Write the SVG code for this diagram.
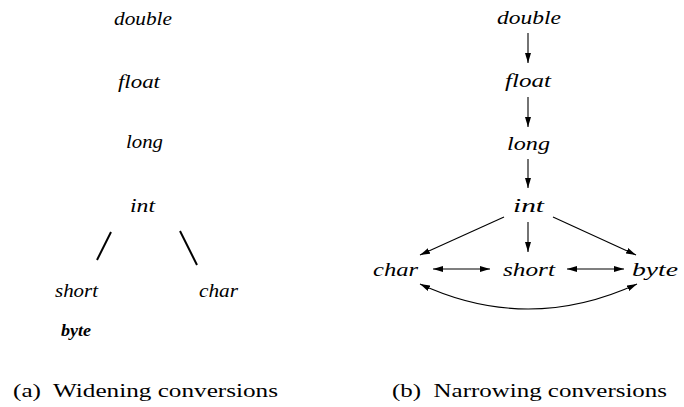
<svg xmlns="http://www.w3.org/2000/svg" width="684" height="407" viewBox="0 0 684 407">
<defs>
<style>
.tree{stroke:#000;stroke-width:2;fill:none}
.arr{stroke:#000;stroke-width:1.1;fill:none;marker-end:url(#ah)}
.darr{stroke:#000;stroke-width:1.1;fill:none;marker-end:url(#ah);marker-start:url(#ah)}
</style>
<marker id="ah" viewBox="0 0 10 6" refX="10" refY="3" markerWidth="10" markerHeight="6" markerUnits="userSpaceOnUse" orient="auto-start-reverse">
<path d="M0,0 L10,3 L0,6 z" fill="#000"/>
</marker>
</defs>
<rect width="684" height="407" fill="#fff"/>

<!-- (a) Widening -->
<g id="a-double"><text x="114" y="25" font-family="Liberation Serif" font-style="italic" font-size="18" textLength="58" lengthAdjust="spacingAndGlyphs">double</text></g>
<g id="a-float"><text x="118" y="88" font-family="Liberation Serif" font-style="italic" font-size="18" textLength="42" lengthAdjust="spacingAndGlyphs">float</text></g>
<g id="a-long"><text x="126" y="148" font-family="Liberation Serif" font-style="italic" font-size="18" textLength="37" lengthAdjust="spacingAndGlyphs">long</text></g>
<g id="a-int"><text x="130" y="212" font-family="Liberation Serif" font-style="italic" font-size="18" textLength="25" lengthAdjust="spacingAndGlyphs">int</text></g>
<g id="a-short"><text x="55" y="297" font-family="Liberation Serif" font-style="italic" font-size="18" textLength="43" lengthAdjust="spacingAndGlyphs">short</text></g>
<g id="a-char"><text x="199" y="297" font-family="Liberation Serif" font-style="italic" font-size="18" textLength="39" lengthAdjust="spacingAndGlyphs">char</text></g>
<g id="a-byte"><text x="61" y="336" font-family="Liberation Serif" font-style="italic" font-weight="bold" font-size="17" textLength="30" lengthAdjust="spacingAndGlyphs">byte</text></g>
<g id="a-connectors">
<line class="tree" x1="111" y1="232" x2="97" y2="260"/>
<line class="tree" x1="180" y1="231" x2="197" y2="265"/>
</g>

<!-- (b) Narrowing -->
<g id="b-double"><text x="497" y="24" font-family="Liberation Serif" font-style="italic" font-size="19" textLength="64" lengthAdjust="spacingAndGlyphs">double</text></g>
<g id="b-float"><text x="505" y="87" font-family="Liberation Serif" font-style="italic" font-size="19" textLength="46" lengthAdjust="spacingAndGlyphs">float</text></g>
<g id="b-long"><text x="507" y="150" font-family="Liberation Serif" font-style="italic" font-size="19" textLength="43" lengthAdjust="spacingAndGlyphs">long</text></g>
<g id="b-int"><text x="513" y="212" font-family="Liberation Serif" font-style="italic" font-size="19" textLength="31" lengthAdjust="spacingAndGlyphs">int</text></g>
<g id="b-char"><text x="373" y="276" font-family="Liberation Serif" font-style="italic" font-size="19" textLength="45" lengthAdjust="spacingAndGlyphs">char</text></g>
<g id="b-short"><text x="503" y="276" font-family="Liberation Serif" font-style="italic" font-size="19" textLength="52" lengthAdjust="spacingAndGlyphs">short</text></g>
<g id="b-byte"><text x="632" y="276" font-family="Liberation Serif" font-style="italic" font-size="19" textLength="46" lengthAdjust="spacingAndGlyphs">byte</text></g>
<g id="b-connectors">
<line class="arr" x1="528" y1="33" x2="528" y2="63"/>
<line class="arr" x1="528" y1="97" x2="528" y2="127"/>
<line class="arr" x1="528" y1="159" x2="528" y2="188"/>
<line class="arr" x1="528" y1="222" x2="528" y2="252"/>
<line class="arr" x1="504" y1="217" x2="420" y2="255"/>
<line class="arr" x1="553" y1="217" x2="636" y2="255"/>
<line class="darr" x1="433" y1="269" x2="490" y2="269"/>
<line class="darr" x1="567" y1="269" x2="624" y2="269"/>
<path class="darr" d="M420,284 Q528,334 637,284"/>
</g>

<!-- captions -->
<g id="caption-a"><text x="13" y="397" font-family="Liberation Serif" font-size="19" textLength="265" lengthAdjust="spacingAndGlyphs">(a)&#160; Widening conversions</text></g>
<g id="caption-b"><text x="392" y="397" font-family="Liberation Serif" font-size="19" textLength="275" lengthAdjust="spacingAndGlyphs">(b)&#160; Narrowing conversions</text></g>
</svg>
